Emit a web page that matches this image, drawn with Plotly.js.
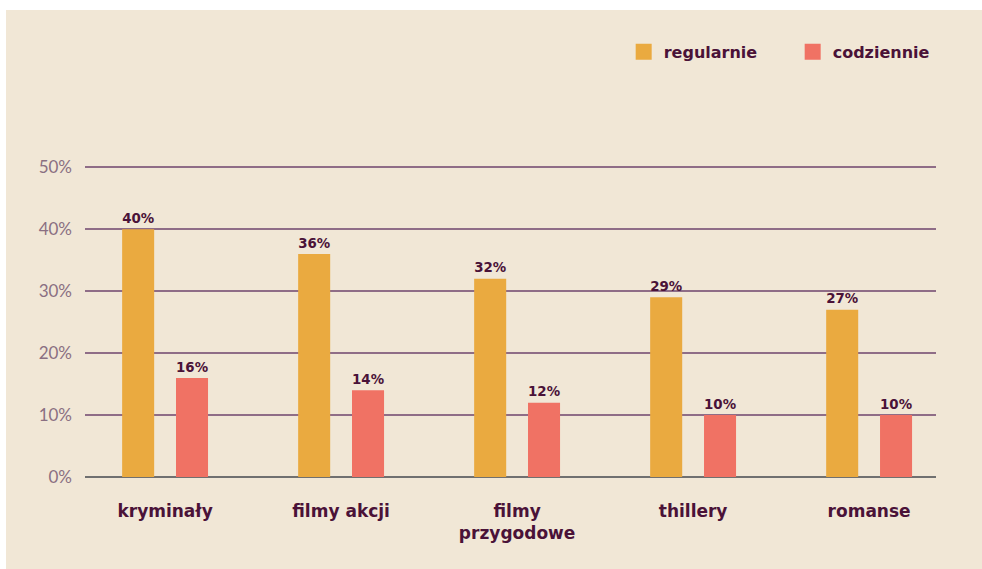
<!DOCTYPE html>
<html>
<head>
<meta charset="utf-8">
<script src="https://cdn.plot.ly/plotly-3.0.1.min.js"></script>
<style>
  html, body { margin: 0; padding: 0; background: #ffffff; }
  #chart { position: absolute; left: 6px; top: 10px; width: 976px; height: 559px; }
</style>
</head>
<body>
<div id="chart"></div>
<script>
const categories = ["kryminały", "filmy akcji", "filmy<br>przygodowe", "thillery", "romanse"];
const regularnie = [40, 36, 32, 29, 27];
const codziennie = [16, 14, 12, 10, 10];
const seriesNames = ["regularnie", "codziennie"];
const yTickVals = [0, 10, 20, 30, 40, 50];
const yTickText = ["0%", "10%", "20%", "30%", "40%", "50%"];

const orange = "#eaaa40";
const red = "#f07264";
const dark = "#4a1238";
const boldFont = "'DejaVu Sans', sans-serif";
const xIdx = categories.map((_, i) => i);

const barCommon = {
  type: "bar",
  x: xIdx,
  width: 0.182,
  textposition: "outside",
  cliponaxis: false,
  textfont: { family: boldFont, size: 16, color: dark, weight: 700 },
  showlegend: false,
  hoverinfo: "skip"
};

const traces = [
  Object.assign({}, barCommon, {
    y: regularnie, offset: -0.244, marker: { color: orange },
    text: regularnie.map(v => v + "%"), name: seriesNames[0]
  }),
  Object.assign({}, barCommon, {
    y: codziennie, offset: 0.062, marker: { color: red },
    text: codziennie.map(v => v + "%"), name: seriesNames[1]
  }),
  { type: "scatter", mode: "markers", x: [null], y: [null], name: seriesNames[0],
    marker: { symbol: "square", size: 19, color: orange } },
  { type: "scatter", mode: "markers", x: [null], y: [null], name: seriesNames[1],
    marker: { symbol: "square", size: 19, color: red } }
];

const layout = {
  width: 976, height: 559,
  paper_bgcolor: "#f1e7d6",
  plot_bgcolor: "#f1e7d6",
  margin: { l: 79, r: 46, t: 156, b: 92, autoexpand: false },
  barmode: "overlay",
  showlegend: true,
  legend: {
    orientation: "h", x: 0.633, xanchor: "left", y: 1.367, yanchor: "middle",
    font: { family: boldFont, size: 16, color: dark, weight: 700 },
    bgcolor: "rgba(0,0,0,0)", itemwidth: 30, traceorder: "normal",
    entrywidth: 124, entrywidthmode: "pixels"
  },
  xaxis: {
    range: [-0.455, 4.38],
    tickmode: "array", tickvals: xIdx, ticktext: categories,
    showgrid: false, zeroline: false, showline: false, ticks: "",
    ticklabelstandoff: 22,
    tickfont: { family: boldFont, size: 17, color: dark, weight: 700 },
    fixedrange: true
  },
  yaxis: {
    range: [0, 50.2],
    tickmode: "array", tickvals: yTickVals, ticktext: yTickText,
    showgrid: true, gridcolor: "#8f6d87", gridwidth: 1.5,
    zeroline: true, zerolinecolor: "#707070", zerolinewidth: 2.5,
    showline: false, ticks: "", ticklabelstandoff: 12,
    tickfont: { family: "Lato, sans-serif", size: 17, color: "#8a6f82" },
    fixedrange: true
  },
  hovermode: false
};

Plotly.newPlot("chart", traces, layout, { displayModeBar: false, staticPlot: true });
</script>
</body>
</html>
